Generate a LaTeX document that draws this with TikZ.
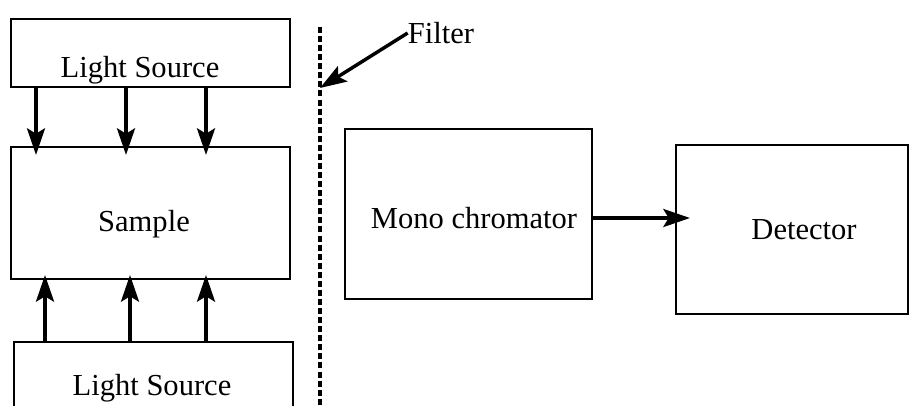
\documentclass[tikz,border=0pt]{standalone}
\usepackage{fontspec}
\setmainfont{Liberation Serif}
\usetikzlibrary{arrows.meta}
\begin{document}
\begin{tikzpicture}[x=0.75pt,y=-0.75pt,
  frame/.style={line width=2.2pt},
  lbl/.style={font=\fontsize{22.9}{27}\selectfont,inner sep=0pt},
  arr/.style={line width=2.6pt,-{Stealth[length=20pt,width=13.5pt,inset=4pt]}}]
\clip (0,0) rectangle (912,406);
\fill[white] (0,0) rectangle (912,406);
% boxes
\draw[frame] (11,19) rectangle (290,87);
\node[inner sep=0pt,minimum width=209.25pt,minimum height=51pt] (ls1) at (150.5,53) {};
\draw[frame] (11,147) rectangle (290,279);
\node[inner sep=0pt,minimum width=209.25pt,minimum height=99pt] (smp) at (150.5,213) {};
\draw[frame] (14,342) rectangle (293,430);
\node[inner sep=0pt,minimum width=209.25pt,minimum height=66pt] (ls2) at (153.5,386) {};
\draw[frame] (345,129) rectangle (592,299);
\node[inner sep=0pt,minimum width=185.25pt,minimum height=127.5pt] (mono) at (468.5,214) {};
\draw[frame] (676,145) rectangle (908,314);
\node[inner sep=0pt,minimum width=174pt,minimum height=126.75pt] (det) at (792,229.5) {};
% texts
\node[lbl] (t1) at (140,70) {Light Source};
\node[lbl] (t2) at (144,224) {Sample};
\node[lbl] (t3) at (152,388) {Light Source};
\node[lbl] (t4) at (474,218) {Mono chromator};
\node[lbl] (t5) at (804,230) {Detector};
\node[lbl] (tf) at (441,33) {Filter};
% coordinates
\coordinate (d1) at (36,155); \coordinate (d2) at (126,155); \coordinate (d3) at (206,155);
\coordinate (u1) at (45,275); \coordinate (u2) at (130,275); \coordinate (u3) at (206,275);
\coordinate (ftop) at (320,27); \coordinate (fbot) at (320,410);
\coordinate (fhit) at (320,88);
\coordinate (dtip) at (690,218);
% arrows
\draw[arr] (ls1.south -| d1) -- (d1);
\draw[arr] (ls1.south -| d2) -- (d2);
\draw[arr] (ls1.south -| d3) -- (d3);
\draw[arr] (ls2.north -| u1) -- (u1);
\draw[arr] (ls2.north -| u2) -- (u2);
\draw[arr] (ls2.north -| u3) -- (u3);
\draw[line width=2.6pt,dash pattern=on 4.5pt off 2.3pt] (ftop) -- (fbot);
\draw[arr] (tf.west) -- (fhit);
\draw[arr] (mono.east |- dtip) -- (dtip);
\end{tikzpicture}
\end{document}
